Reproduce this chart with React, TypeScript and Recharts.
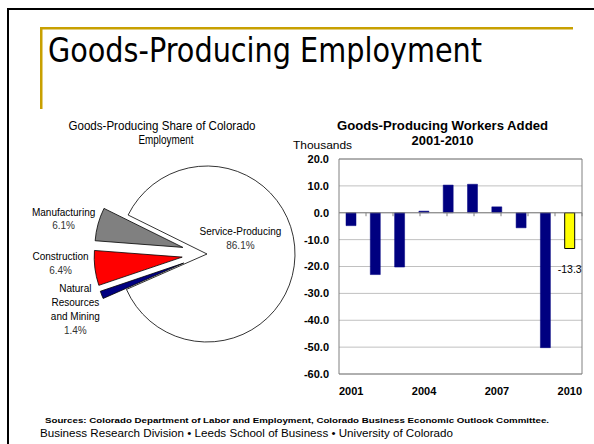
import { PieChart, Pie, Cell, BarChart, Bar, XAxis, YAxis, CartesianGrid, ReferenceLine, ReferenceArea, LabelList } from "recharts";

const pieNames = ["Service-Producing", "Natural Resources and Mining", "Construction", "Manufacturing"];
const pieShares = [86.1, 1.4, 6.4, 6.1];
const pieLabelLines = [["Service-Producing"], ["Natural", "Resources", "and Mining"], ["Construction"], ["Manufacturing"]];
const pieColors = ["#FFFFFF", "#000080", "#FF0000", "#808080"];

const years = ["2001", "2002", "2003", "2004", "2005", "2006", "2007", "2008", "2009", "2010"];
const workersAdded = [-4.8, -23.0, -20.2, 0.6, 10.3, 10.6, 2.2, -5.6, -50.2, -13.3];
const yTicks = [-60, -50, -40, -30, -20, -10, 0, 10, 20];

const SANS = "'Liberation Sans', Arial, sans-serif";

const PIE_CX = 202;
const PIE_CY = 249;
const PIE_R = 88;
const EXPLODE = 25;
const START = 153.7;

const pieData = pieNames.map((name, i) => ({ name, value: pieShares[i] }));
const barData = years.map((year, i) => ({ year, added: workersAdded[i] }));

// mid angle of each slice, same way the pie lays them out (clockwise from START)
const total = pieShares.reduce((a, b) => a + b, 0);
const midAngles = pieShares.map((v, i) => {
  const before = pieShares.slice(0, i).reduce((a, b) => a + b, 0);
  return START - (360 * (before + v / 2)) / total;
});

// small hand nudges so outside labels sit where excel put them
const labelNudge: Record<number, [number, number]> = {
  0: [0, -13],
  1: [4.5, 6],
  2: [-1.5, -5.5],
  3: [-2.5, 7],
};

const renderPieLabel = (p: any) => {
  const { cx, cy, midAngle, outerRadius, index } = p;
  const lines = [...pieLabelLines[index], `${pieShares[index].toFixed(1)}%`];
  const inside = index === 0;
  const r = inside ? outerRadius * 0.38 : outerRadius * 1.66;
  const rad = (midAngle * Math.PI) / 180;
  const [nx, ny] = labelNudge[index] || [0, 0];
  const x = cx + r * Math.cos(rad) + nx;
  const yc = cy - r * Math.sin(rad) + ny;
  const lh = 13.8;
  const y0 = yc - ((lines.length - 1) * lh) / 2;
  return (
    <text key={`lbl-${index}`} x={x} y={y0} textAnchor="middle" fontSize={10} fontFamily={SANS}>
      {lines.map((l, i) => (
        <tspan key={i} x={x} y={y0 + i * lh} fill={i === lines.length - 1 ? "#333333" : "#000000"}>
          {l}
        </tspan>
      ))}
    </text>
  );
};

const renderLastLabel = (p: any) => {
  const { x, y, width, height, value, index } = p;
  if (index !== workersAdded.length - 1) return null;
  const bottom = Math.max(y, y + height);
  return (
    <text x={x + width / 2} y={bottom + 24.5} textAnchor="middle" fontSize={10.5} fontFamily={SANS} fill="#000">
      {Number(value).toFixed(1)}
    </text>
  );
};

export default function App() {
  const goodsIdx = [1, 2, 3];
  return (
    <div style={{ position: "absolute", left: 0, top: 0, width: 594, height: 444, background: "#fff", overflow: "hidden" }}>
      <div style={{ position: "absolute", left: 0, top: 0 }}>
        <PieChart width={300} height={420}>
          <Pie
            data={pieData}
            dataKey="value"
            nameKey="name"
            cx={PIE_CX}
            cy={PIE_CY}
            outerRadius={PIE_R}
            startAngle={START}
            endAngle={START - 360}
            label={renderPieLabel}
            labelLine={false}
            isAnimationActive={false}
          >
            {pieData.map((d, i) => (
              <Cell key={d.name} fill={i === 0 ? pieColors[0] : "none"} stroke={i === 0 ? "#000" : "none"} strokeWidth={0.8} />
            ))}
          </Pie>
          {goodsIdx.map((g) => {
            const rad = (midAngles[g] * Math.PI) / 180;
            return (
              <Pie
                key={`ex-${g}`}
                data={pieData}
                dataKey="value"
                nameKey="name"
                cx={PIE_CX + EXPLODE * Math.cos(rad)}
                cy={PIE_CY - EXPLODE * Math.sin(rad)}
                outerRadius={PIE_R}
                startAngle={START}
                endAngle={START - 360}
                isAnimationActive={false}
              >
                {pieData.map((d, i) => (
                  <Cell key={d.name} fill={i === g ? pieColors[i] : "none"} stroke={i === g ? "#000" : "none"} strokeWidth={0.8} />
                ))}
              </Pie>
            );
          })}
        </PieChart>
      </div>

      <div style={{ position: "absolute", left: 290, top: 140 }}>
        <BarChart width={300} height={270} data={barData} margin={{ top: 19, right: 8, bottom: 0, left: 9 }} barSize={10}>
          <CartesianGrid vertical={false} stroke="#C0C0C0" />
          <XAxis
            dataKey="year"
            interval={2}
            axisLine={false}
            tickLine={false}
            tickSize={0}
            tickMargin={13}
            height={36}
            tick={{ fontSize: 11, fontWeight: "bold", fill: "#000", fontFamily: SANS }}
          />
          <XAxis xAxisId="num" type="number" domain={[0, 10]} hide />
          <YAxis
            domain={[-60, 20]}
            ticks={yTicks}
            width={40}
            axisLine={false}
            tickLine={false}
            tickSize={0}
            tickMargin={10}
            tickFormatter={(v: number) => v.toFixed(1)}
            tick={{ fontSize: 11, fontWeight: "bold", fill: "#000", fontFamily: SANS }}
          />
          <ReferenceArea y1={-60} y2={20} fill="none" stroke="#808080" strokeWidth={1} />
          <ReferenceLine y={0} stroke="#808080" />
          {years.slice(1).map((_, i) => (
            <ReferenceLine
              key={`t${i}`}
              xAxisId="num"
              segment={[
                { x: i + 1, y: 0 },
                { x: i + 1, y: -1.3 },
              ]}
              stroke="#808080"
            />
          ))}
          <Bar dataKey="added" isAnimationActive={false}>
            {barData.map((d, i) => (
              <Cell
                key={d.year}
                fill={i === barData.length - 1 ? "#FFFF00" : "#000080"}
                stroke={i === barData.length - 1 ? "#000" : "#000080"}
                strokeWidth={i === barData.length - 1 ? 1 : 0.5}
              />
            ))}
            <LabelList dataKey="added" content={renderLastLabel} />
          </Bar>
        </BarChart>
      </div>

      <svg width={594} height={444} style={{ position: "absolute", left: 0, top: 0, pointerEvents: "none" }}>
        <rect x={7} y={8} width={2} height={436} fill="#000" />
        <rect x={7} y={8} width={587} height={2} fill="#000" />
        <rect x={40} y={27} width={533} height={2.5} fill="#C8A000" />
        <rect x={40} y={27} width={2.5} height={82} fill="#C8A000" />
        <text x={48} y={62} fontSize={33} fontFamily="'DejaVu Sans', sans-serif" textLength={434} lengthAdjust="spacingAndGlyphs" fill="#000">
          Goods-Producing Employment
        </text>
        <text x={162} y={130} textAnchor="middle" fontSize={12} fontFamily={SANS} textLength={187} lengthAdjust="spacingAndGlyphs" fill="#000">
          Goods-Producing Share of Colorado
        </text>
        <text x={166} y={144} textAnchor="middle" fontSize={12} fontFamily={SANS} textLength={55} lengthAdjust="spacingAndGlyphs" fill="#000">
          Employment
        </text>
        <text x={442.5} y={130} textAnchor="middle" fontSize={13} fontWeight="bold" fontFamily={SANS} textLength={211} lengthAdjust="spacingAndGlyphs" fill="#000">
          Goods-Producing Workers Added
        </text>
        <text x={442.5} y={145} textAnchor="middle" fontSize={13} fontWeight="bold" fontFamily={SANS} textLength={62} lengthAdjust="spacingAndGlyphs" fill="#000">
          2001-2010
        </text>
        <text x={293} y={148.5} fontSize={10.5} fontFamily={SANS} textLength={59} lengthAdjust="spacingAndGlyphs" fill="#000">
          Thousands
        </text>
        <text x={45} y={423} fontSize={7.5} fontWeight="bold" fontFamily={SANS} textLength={504} lengthAdjust="spacingAndGlyphs" fill="#000">
          Sources: Colorado Department of Labor and Employment, Colorado Business Economic Outlook Committee.
        </text>
        <text x={40} y={437} fontSize={11} fontFamily={SANS} textLength={413} lengthAdjust="spacingAndGlyphs" fill="#000">
          Business Research Division • Leeds School of Business • University of Colorado
        </text>
      </svg>
    </div>
  );
}
